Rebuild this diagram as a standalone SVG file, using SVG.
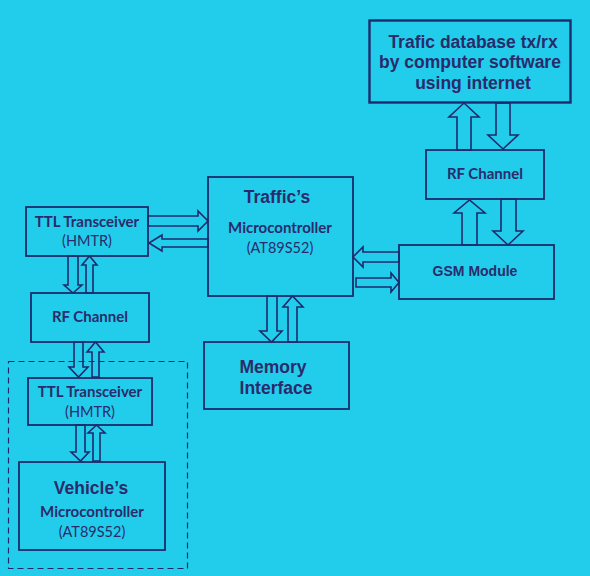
<svg xmlns="http://www.w3.org/2000/svg" width="590" height="576" viewBox="0 0 590 576">
<style>
.box{fill:none;stroke:#1f2a6c;stroke-width:1.8}
.arr{fill:none;stroke:#1f2a6c;stroke-width:1.6;stroke-linejoin:miter}
.t1{font-family:"Liberation Sans",Arial,sans-serif;font-weight:bold;font-size:17.5px;fill:#2a2b6a;text-anchor:middle}
.t2{font-family:"Liberation Sans",Arial,sans-serif;font-weight:bold;font-size:14px;fill:#2a2b6a;text-anchor:middle}
.c1{font-family:Lato,"Open Sans",sans-serif;font-weight:bold;font-size:15px;fill:#2a2b6a;text-anchor:middle}
.c2{font-family:Lato,"Open Sans",sans-serif;font-size:14.5px;fill:#2a2b6a;text-anchor:middle}
</style>
<rect width="590" height="576" fill="#22cdec"/>
<g id="internet">
<rect class="box" x="369.5" y="20.5" width="201" height="82" style="stroke-width:2.4"/>
<text class="t1" x="473" y="48">Trafic database tx/rx</text>
<text class="t1" x="470" y="68">by computer software</text>
<text class="t1" x="473" y="89">using internet</text>
</g>
<g id="rf-right">
<rect class="box" x="426" y="150" width="118" height="49"/>
<text class="c1" x="485" y="179">RF Channel</text>
</g>
<g id="gsm">
<rect class="box" x="399" y="245" width="155" height="54"/>
<text class="t2" x="475" y="276">GSM Module</text>
</g>
<g id="traffic-mc">
<rect class="box" x="208" y="177" width="145" height="119"/>
<text class="t1" x="277" y="203">Traffic’s</text>
<text class="c1" x="280" y="233">Microcontroller</text>
<text class="c2" x="280" y="253">(AT89S52)</text>
</g>
<g id="ttl-top">
<rect class="box" x="26" y="207" width="122" height="49"/>
<text class="c1" x="87" y="227">TTL Transceiver</text>
<text class="c2" x="87" y="246">(HMTR)</text>
</g>
<g id="rf-left">
<rect class="box" x="31" y="293" width="118" height="49"/>
<text class="c1" x="90" y="322">RF Channel</text>
</g>
<g id="memory">
<rect class="box" x="204" y="342" width="145" height="67"/>
<text class="t1" x="273" y="373">Memory</text>
<text class="t1" x="276" y="394">Interface</text>
</g>
<g id="vehicle-unit">
<rect x="8.5" y="361.5" width="179" height="207" fill="none" stroke="#1f2a6c" stroke-width="1.2" stroke-dasharray="6,4"/>
</g>
<g id="ttl-bottom">
<rect class="box" x="28" y="378" width="124" height="47"/>
<text class="c1" x="90" y="397">TTL Transceiver</text>
<text class="c2" x="90" y="417">(HMTR)</text>
</g>
<g id="vehicle-mc">
<rect class="box" x="19" y="462" width="146" height="88"/>
<text class="t1" x="91" y="494">Vehicle’s</text>
<text class="c1" x="92" y="517">Microcontroller</text>
<text class="c2" x="92" y="537">(AT89S52)</text>
</g>
<g id="connectors">
<polygon class="arr" points="457,150 457,117 449,117 464,103 479,117 471,117 471,150"/>
<polygon class="arr" points="496,103 510,103 510,135 518,135 503,149 488,135 496,135"/>
<polygon class="arr" points="462,245 462,213 454,213 469.5,200 485,213 477,213 477,245"/>
<polygon class="arr" points="501,199 516,199 516,231 523,231 508,245 493,231 501,231"/>
<polygon class="arr" points="399,252 363,252 363,247 353,257 363,267 363,262 399,262"/>
<polygon class="arr" points="356,278 391,278 391,273 399,282.5 391,292 391,287 356,287"/>
<polygon class="arr" points="148,216 198,216 198,211 208,221 198,231 198,226 148,226"/>
<polygon class="arr" points="208,239 162,239 162,235 149,243 162,251 162,247 208,247"/>
<polygon class="arr" points="68,256 78,256 78,285 82,285 73,293 64,285 68,285"/>
<polygon class="arr" points="86,293 86,265 82,265 89.5,256 97,265 93,265 93,293"/>
<polygon class="arr" points="74,342 83,342 83,367 88,367 78.5,377 69,367 74,367"/>
<polygon class="arr" points="92,377 92,352 87,352 95.5,342 104,352 99,352 99,377"/>
<polygon class="arr" points="76,425 85,425 85,452 89,452 80.5,461 71,452 76,452"/>
<polygon class="arr" points="93,461 93,433 88,433 96.5,425 105,433 100,433 100,461"/>
<polygon class="arr" points="267,296 277,296 277,331 282,331 271.5,342 260,331 267,331"/>
<polygon class="arr" points="288,342 288,307 283,307 292.5,296 303,307 297,307 297,342"/>
</g>
</svg>
